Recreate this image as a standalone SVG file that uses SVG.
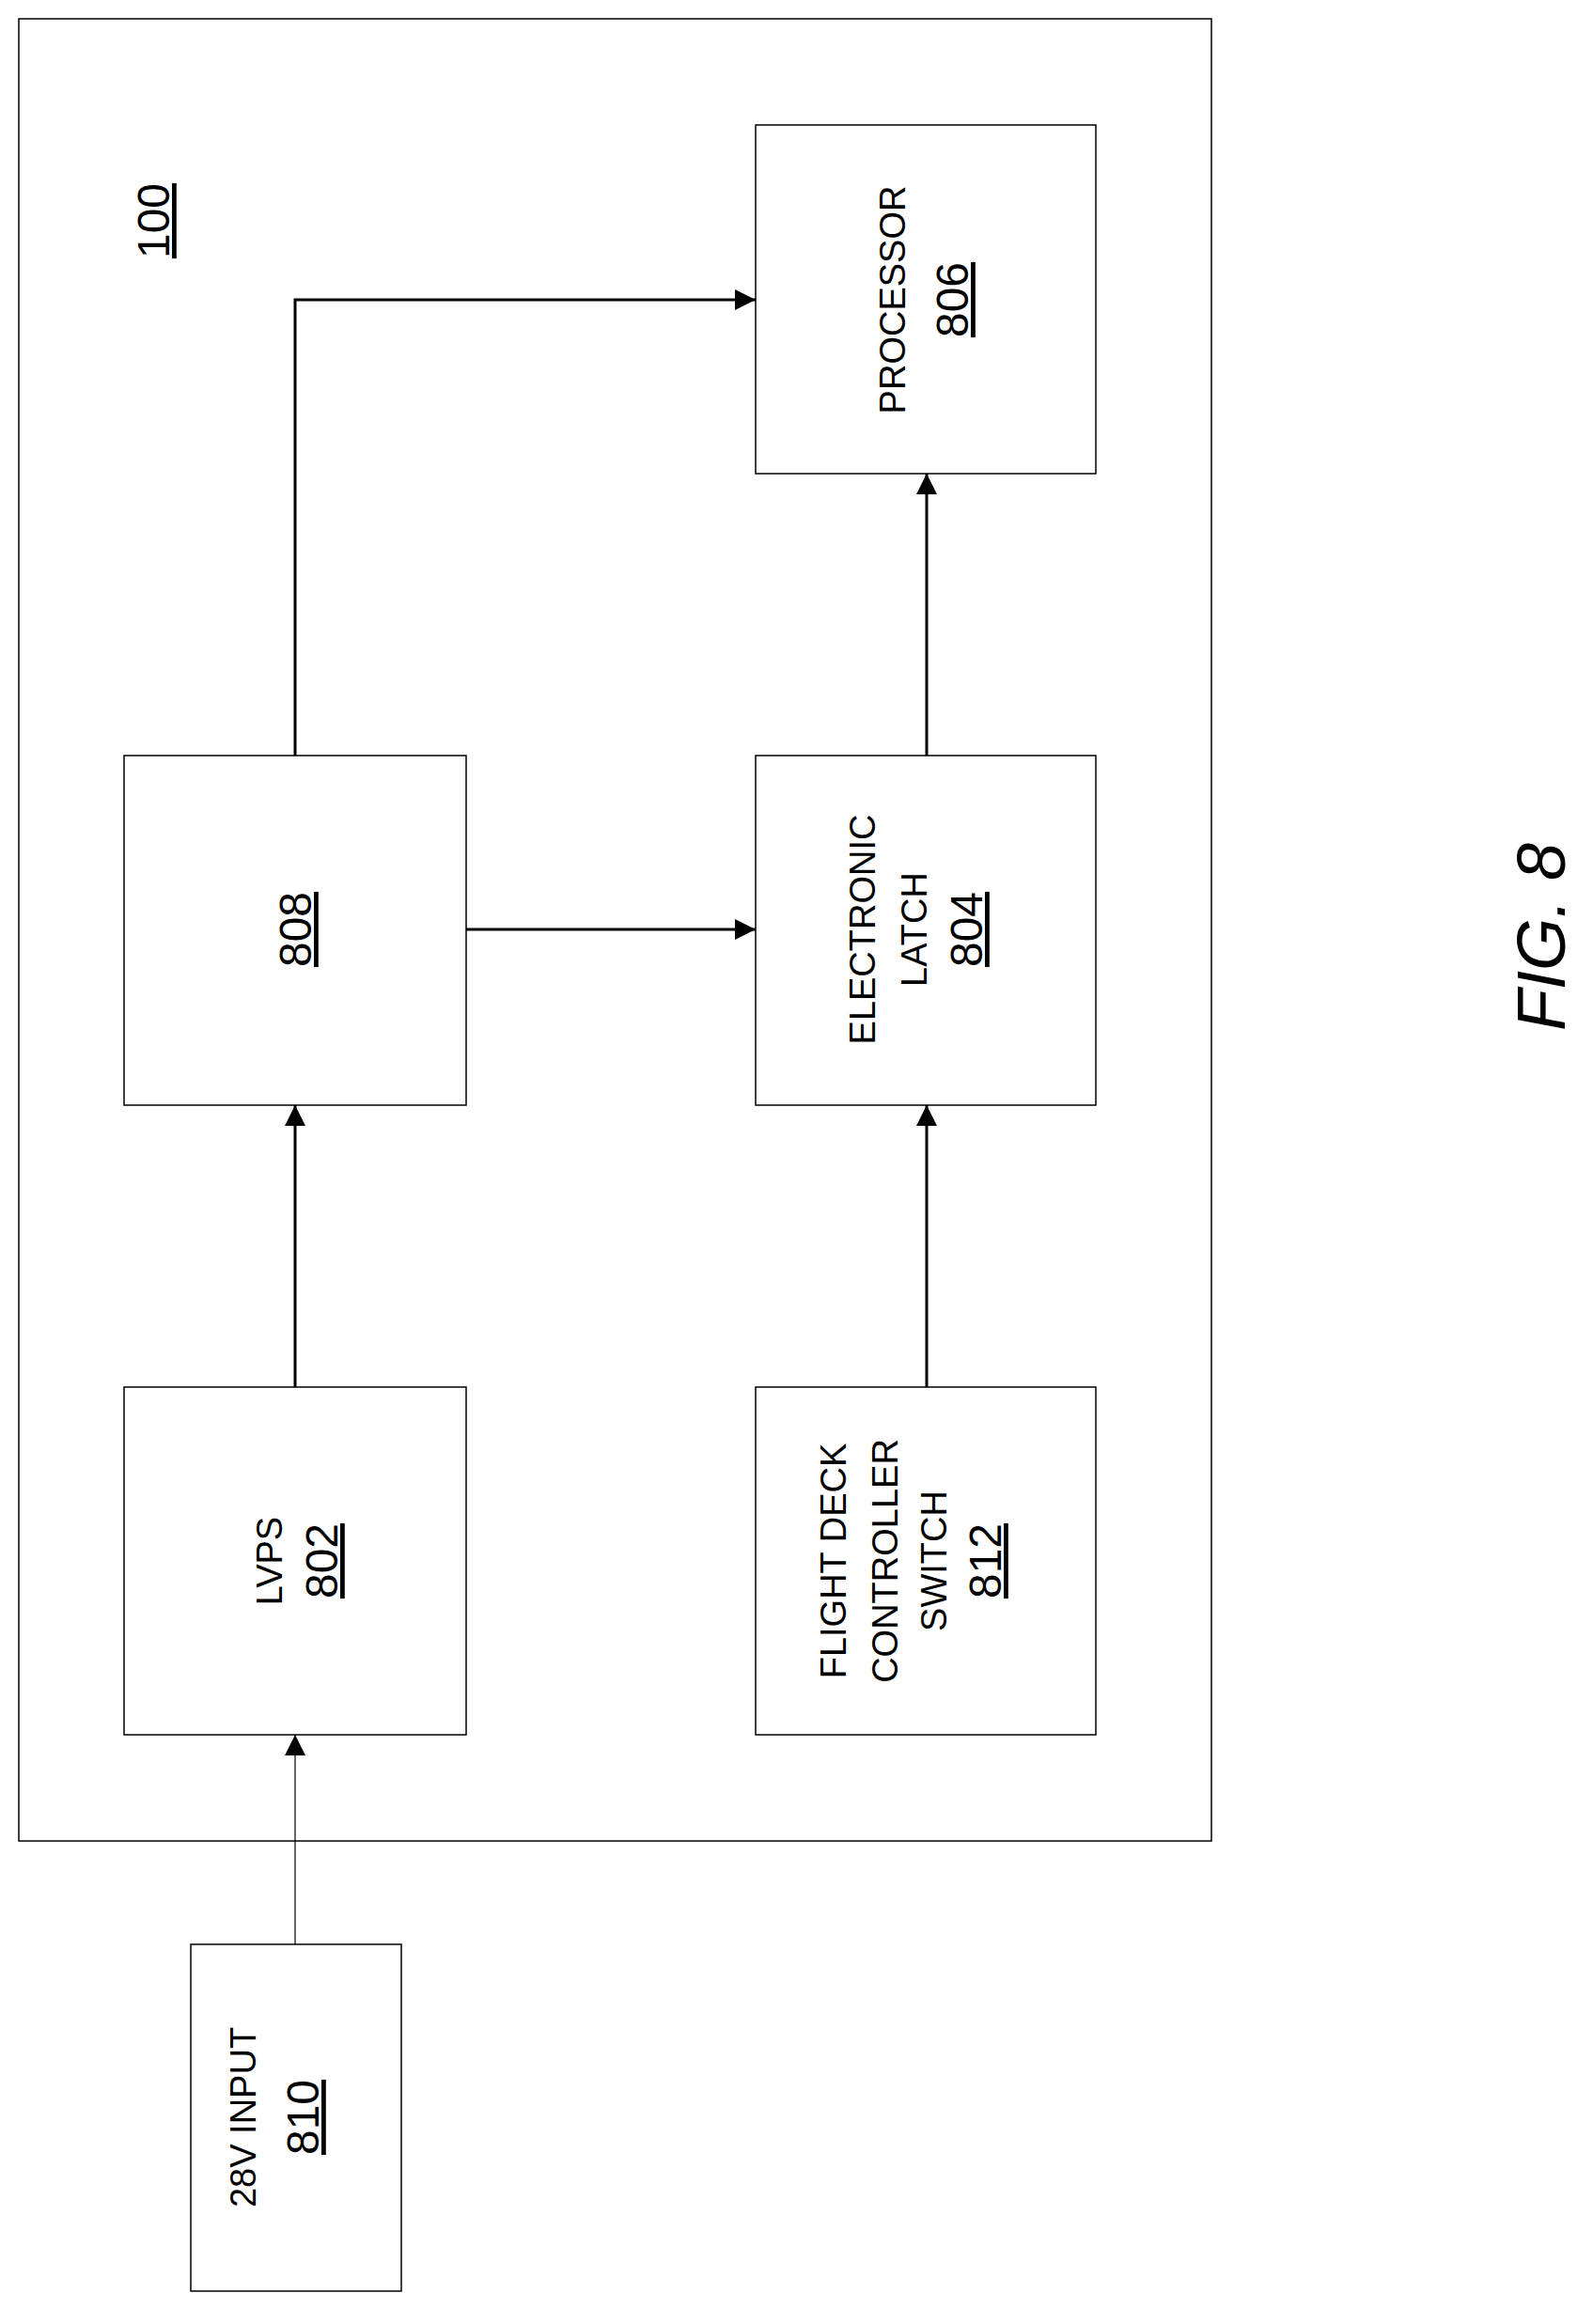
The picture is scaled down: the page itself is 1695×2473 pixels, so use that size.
<svg xmlns="http://www.w3.org/2000/svg" width="1695" height="2473" viewBox="0 0 1695 2473">
<style>
.b{fill:#fff;stroke:#000;stroke-width:1.5}
.t{font-family:"Liberation Sans",Arial,sans-serif;font-size:38px;text-anchor:middle;fill:#000}
.u{text-decoration:underline;font-size:48px}
.c{stroke:#000;stroke-width:3;fill:none}
</style>
<defs><marker id="m" viewBox="0 0 10 10" refX="10" refY="5" markerWidth="26" markerHeight="22" markerUnits="userSpaceOnUse" orient="auto"><path d="M0,0L10,5L0,10z" fill="#000"/></marker></defs>
<rect class="b" x="20" y="20" width="1269" height="1939"/>
<text class="t u" transform="translate(180,235) rotate(-90)">100</text>
<g id="n806"><rect class="b" x="804" y="133" width="362" height="371"/>
<text class="t" transform="translate(963,319) rotate(-90)">PROCESSOR</text>
<text class="t u" transform="translate(1030,319) rotate(-90)">806</text></g>
<g id="n808"><rect class="b" x="132" y="804" width="364" height="372"/>
<text class="t u" transform="translate(331,989) rotate(-90)">808</text></g>
<g id="n804"><rect class="b" x="804" y="804" width="362" height="372"/>
<text class="t" transform="translate(931,989) rotate(-90)">ELECTRONIC</text>
<text class="t" transform="translate(986,989) rotate(-90)">LATCH</text>
<text class="t u" transform="translate(1045,989) rotate(-90)">804</text></g>
<g id="n802"><rect class="b" x="132" y="1476" width="364" height="370"/>
<text class="t" transform="translate(300,1661) rotate(-90)">LVPS</text>
<text class="t u" transform="translate(359,1661) rotate(-90)">802</text></g>
<g id="n812"><rect class="b" x="804" y="1476" width="362" height="370"/>
<text class="t" transform="translate(900,1661) rotate(-90)">FLIGHT DECK</text>
<text class="t" transform="translate(955,1661) rotate(-90)">CONTROLLER</text>
<text class="t" transform="translate(1007,1661) rotate(-90)">SWITCH</text>
<text class="t u" transform="translate(1065,1661) rotate(-90)">812</text></g>
<g id="n810"><rect class="b" x="203" y="2069" width="224" height="369"/>
<text class="t" transform="translate(272,2253) rotate(-90)">28V INPUT</text>
<text class="t u" transform="translate(339,2253) rotate(-90)">810</text></g>
<g id="connectors">
<path class="c" d="M314,804V319H804" marker-end="url(#m)"/>
<path class="c" d="M496,989H804" marker-end="url(#m)"/>
<path class="c" d="M986,804V504" marker-end="url(#m)"/>
<path class="c" d="M986,1476V1176" marker-end="url(#m)"/>
<path class="c" d="M314,1476V1176" marker-end="url(#m)"/>
<path class="c" style="stroke-width:1.2" d="M314,2069V1846" marker-end="url(#m)"/>
</g>
<text class="t" style="font-size:72px;font-style:italic" transform="translate(1665,997) rotate(-90)">FIG. 8</text>
</svg>
